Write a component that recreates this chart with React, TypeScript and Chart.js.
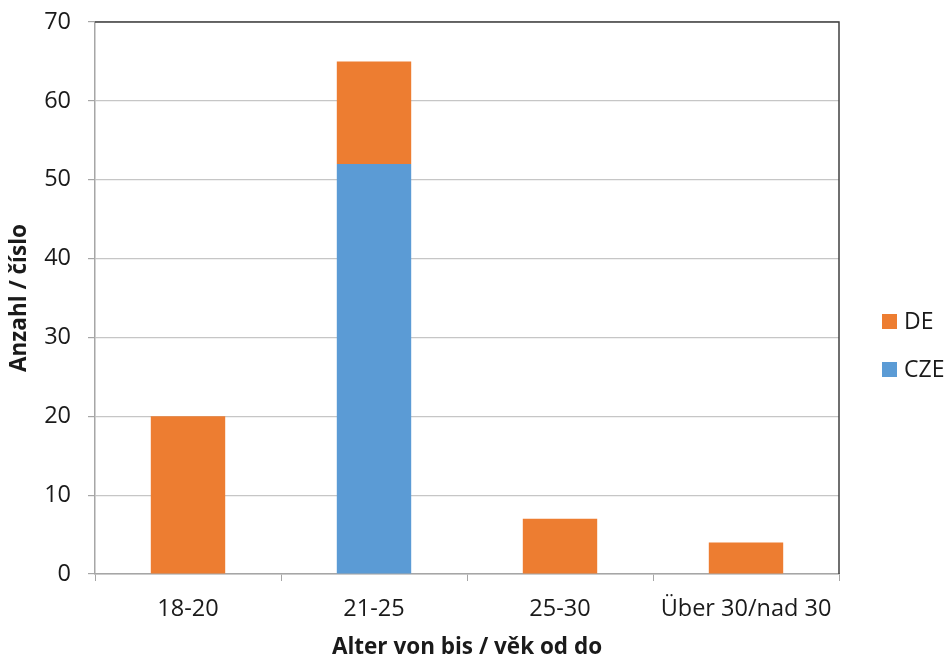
import React, { useEffect, useRef } from "react";
import { Chart, registerables } from "chart.js";

Chart.register(...registerables);

const categories = ["18-20", "21-25", "25-30", "Über 30/nad 30"];
const czeValues = [0, 52, 0, 0];
const deValues = [20, 13, 7, 4];
const yMin = 0;
const yMax = 70;
const yStep = 10;
const seriesLabels = ["CZE", "DE"];
const seriesColors = ["#5B9BD5", "#ED7D31"];

const FONT = "'Open Sans', 'DejaVu Sans', sans-serif";

const frameAndLegend = {
  id: "frameAndLegend",
  afterDraw(chart: any) {
    const { ctx, chartArea } = chart;
    ctx.save();
    ctx.strokeStyle = "#404040";
    ctx.lineWidth = 1.5;
    ctx.beginPath();
    ctx.moveTo(chartArea.left, chartArea.top);
    ctx.lineTo(chartArea.right, chartArea.top);
    ctx.lineTo(chartArea.right, chartArea.bottom);
    ctx.stroke();

    // legend (reverse order like Excel stacked)
    const ds = chart.data.datasets.slice().reverse();
    const boxX = 882;
    const startY = 321.5;
    const gap = 48;
    ctx.font = `23px ${FONT}`;
    ctx.textBaseline = "middle";
    ctx.textAlign = "left";
    ds.forEach((d: any, i: number) => {
      const cy = startY + i * gap;
      ctx.fillStyle = d.backgroundColor;
      ctx.fillRect(boxX, cy - 7.5, 15, 15);
      ctx.fillStyle = "#1a1a1a";
      ctx.fillText(d.label, boxX + 22, cy + 1);
    });
    ctx.restore();
  },
};

export default function App() {
  const ref = useRef<HTMLCanvasElement | null>(null);

  useEffect(() => {
    document.body.style.margin = "0";
    if (!ref.current) return;
    const chart = new Chart(ref.current, {
      type: "bar",
      data: {
        labels: categories,
        datasets: [
          {
            label: seriesLabels[0],
            data: czeValues,
            backgroundColor: seriesColors[0],
            borderWidth: 0,
            barPercentage: 0.4,
            categoryPercentage: 1,
          },
          {
            label: seriesLabels[1],
            data: deValues,
            backgroundColor: seriesColors[1],
            borderWidth: 0,
            barPercentage: 0.4,
            categoryPercentage: 1,
          },
        ],
      },
      options: {
        animation: false,
        responsive: true,
        maintainAspectRatio: false,
        layout: { padding: { top: 22, right: 106, bottom: 0, left: 0 } },
        plugins: {
          legend: { display: false },
          tooltip: { enabled: false },
        },
        scales: {
          x: {
            stacked: true,
            afterFit(scale: any) {
              scale.height = 88;
              scale.paddingLeft = 0;
              scale.paddingRight = 0;
            },
            grid: {
              display: true,
              offset: true,
              drawOnChartArea: false,
              drawTicks: true,
              tickLength: 7,
              tickColor: "#a6a6a6",
              color: "#a6a6a6",
            },
            border: { display: true, color: "#a6a6a6", width: 1.5 },
            ticks: {
              color: "#1a1a1a",
              padding: 14,
              font: { family: FONT, size: 23.5 },
              maxRotation: 0,
            },
            title: {
              display: true,
              text: "Alter von bis / věk od do",
              color: "#1a1a1a",
              font: { family: FONT, size: 22.5, weight: "bold" },
              padding: { top: 0, bottom: 1 },
            },
          },
          y: {
            stacked: true,
            min: yMin,
            max: yMax,
            afterFit(scale: any) {
              scale.width = 95;
              scale.paddingTop = 0;
              scale.paddingBottom = 0;
            },
            ticks: {
              stepSize: yStep,
              color: "#1a1a1a",
              padding: 17,
              font: { family: FONT, size: 23.5 },
            },
            grid: {
              color: "#c6c6c6",
              lineWidth: 1.2,
              drawTicks: true,
              tickLength: 7,
              tickColor: "#a6a6a6",
            },
            border: { display: true, color: "#a6a6a6", width: 1.5 },
            title: {
              display: true,
              text: "Anzahl / číslo",
              color: "#1a1a1a",
              font: { family: FONT, size: 22.5, weight: "bold" },
              padding: { top: 6, bottom: 0 },
            },
          },
        },
      },
      plugins: [frameAndLegend],
    });
    return () => chart.destroy();
  }, []);

  return (
    <div style={{ width: 945, height: 662, position: "relative" }}>
      <canvas ref={ref} />
    </div>
  );
}
